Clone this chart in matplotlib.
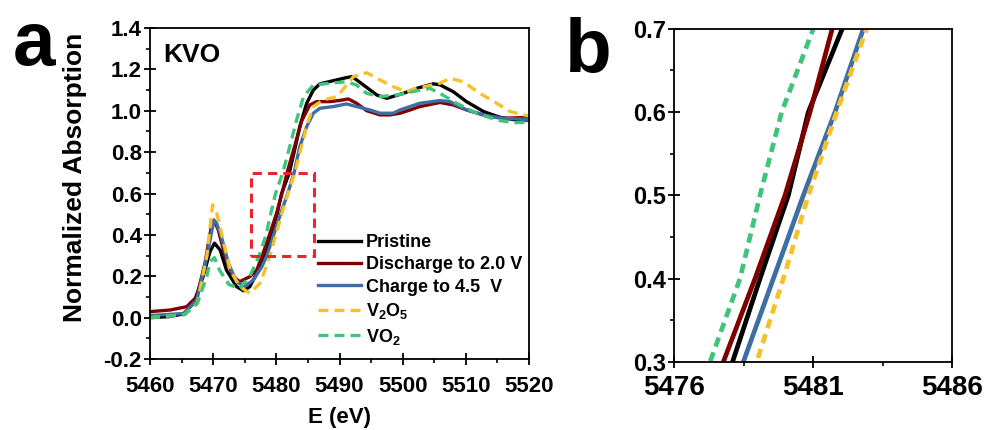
import matplotlib
matplotlib.use("Agg")
from matplotlib import pyplot as plt
from matplotlib.patches import Rectangle
from matplotlib.ticker import MultipleLocator, FixedLocator

plt.rcParams["font.family"] = ["Liberation Sans", "DejaVu Sans"]
plt.rcParams["font.weight"] = "bold"
plt.rcParams["axes.unicode_minus"] = False
plt.rcParams["mathtext.fontset"] = "custom"
plt.rcParams["mathtext.bf"] = "Liberation Sans:bold"
plt.rcParams["mathtext.default"] = "bf"

# ---- data (energy in eV, normalized absorption) ----
pristine_e = [5460, 5463, 5465.3, 5466.9, 5468.4, 5469.5, 5470.2, 5471.1, 5472.1, 5473.7,
              5474.8, 5475.8, 5477.0, 5478.1, 5479.09, 5480.11, 5480.83, 5482.05, 5482.95,
              5483.7, 5484.8, 5485.85, 5486.9, 5489.0, 5491.1, 5492.0, 5493.8, 5495.9,
              5497.5, 5500.1, 5502.2, 5504.85, 5505.9, 5508.0, 5510.1, 5512.8, 5515.4,
              5518.0, 5520]
pristine_a = [0.0, 0.005, 0.018, 0.07, 0.198, 0.32, 0.36, 0.327, 0.23, 0.15,
              0.13, 0.15, 0.22, 0.30, 0.40, 0.50, 0.60, 0.70, 0.818,
              0.923, 1.036, 1.10, 1.13, 1.145, 1.16, 1.165, 1.124, 1.076,
              1.06, 1.084, 1.108, 1.13, 1.125, 1.092, 1.044, 0.996, 0.968,
              0.955, 0.955]

discharge_e = [5460, 5463.2, 5465.8, 5467.4, 5468.7, 5469.8, 5470.1, 5470.8, 5471.9, 5473.2,
               5474.2, 5475.8, 5476.9, 5477.77, 5478.91, 5479.99, 5480.89, 5481.69, 5483.0,
               5484.0, 5485.3, 5486.4, 5488.5, 5490.1, 5491.4, 5492.7, 5494.3, 5496.4,
               5498.0, 5499.6, 5501.2, 5502.7, 5505.9, 5508.0, 5510.1, 5513.3, 5516.4, 5520]
discharge_a = [0.029, 0.037, 0.053, 0.101, 0.263, 0.456, 0.472, 0.424, 0.295, 0.198,
               0.174, 0.198, 0.23, 0.30, 0.40, 0.50, 0.60, 0.70, 0.84,
               0.95, 1.028, 1.044, 1.044, 1.05, 1.057, 1.036, 1.0, 0.98,
               0.98, 0.988, 1.004, 1.02, 1.04, 1.028, 1.004, 0.975, 0.964, 0.968]

charge_e = [5460, 5465.3, 5467.4, 5469.0, 5470.1, 5470.5, 5471.3, 5472.4, 5473.7, 5475.0,
            5476.35, 5477.7, 5478.49, 5479.57, 5480.65, 5481.79, 5482.81, 5483.7, 5484.8,
            5485.85, 5486.9, 5489.0, 5491.1, 5492.7, 5494.8, 5496.4, 5498.5, 5499.6,
            5502.7, 5505.9, 5507.5, 5510.1, 5512.8, 5515.4, 5520]
charge_a = [0.01, 0.02, 0.085, 0.295, 0.47, 0.46, 0.391, 0.263, 0.174, 0.15,
            0.182, 0.246, 0.30, 0.40, 0.50, 0.60, 0.70, 0.826, 0.923,
            0.988, 1.012, 1.02, 1.033, 1.02, 1.004, 0.988, 0.988, 1.004,
            1.036, 1.049, 1.044, 1.004, 0.98, 0.964, 0.958]

v2o5_e = [5460, 5465.5, 5467.5, 5469.0, 5469.9, 5470.6, 5471.3, 5472.7, 5474.2, 5475.8,
          5477.4, 5478.2, 5478.97, 5479.93, 5480.83, 5481.85, 5482.93, 5484.0, 5485.1,
          5485.85, 5487.4, 5489.6, 5490.9, 5492.2, 5494.3, 5496.4, 5498.5, 5500.6,
          5501.7, 5504.0, 5505.9, 5507.5, 5509.6, 5512.2, 5514.9, 5517.0, 5519.1, 5520]
v2o5_a = [0.0, 0.015, 0.07, 0.3, 0.545, 0.5, 0.41, 0.23, 0.15, 0.118,
          0.166, 0.23, 0.30, 0.40, 0.50, 0.60, 0.70, 0.83, 0.955,
          1.02, 1.052, 1.068, 1.116, 1.165, 1.184, 1.149, 1.116, 1.092,
          1.104, 1.12, 1.133, 1.157, 1.14, 1.084, 1.036, 0.996, 0.98, 0.975]

vo2_e = [5460, 5465.5, 5467.5, 5469.0, 5469.5, 5470.2, 5471.0, 5472.5, 5474.2, 5475.8,
         5477.29, 5478.37, 5479.09, 5479.87, 5481.01, 5482.4, 5483.2, 5484.3, 5485.85,
         5488.5, 5491.1, 5492.7, 5494.3, 5496.4, 5499.1, 5502.0, 5504.3, 5505.9,
         5508.55, 5511.7, 5514.9, 5517.5, 5520]
vo2_a = [0.0, 0.015, 0.07, 0.2, 0.27, 0.29, 0.23, 0.16, 0.14, 0.2,
         0.30, 0.40, 0.50, 0.60, 0.70, 0.859, 0.955, 1.068, 1.124,
         1.133, 1.14, 1.124, 1.084, 1.068, 1.076, 1.095, 1.108, 1.084,
         1.036, 0.988, 0.955, 0.942, 0.945]

series = [
    (pristine_e, pristine_a, "Pristine", "#000000", False),
    (discharge_e, discharge_a, "Discharge to 2.0 V", "#800000", False),
    (charge_e, charge_a, "Charge to 4.5  V", "#3d6fa6", False),
    (v2o5_e, v2o5_a, "V$_2$O$_5$", "#f7c12b", True),
    (vo2_e, vo2_a, "VO$_2$", "#3fc47a", True),
]

zoom_box = (5476, 5486, 0.3, 0.7)
b_xticks = [5476, 5481, 5486]

fig = plt.figure(figsize=(9.87, 4.30), dpi=100)
ax_a = fig.add_axes([0.152, 0.165, 0.384, 0.770])
ax_b = fig.add_axes([0.683, 0.158, 0.2815, 0.775])

for e, a, label, color, dashed in series:
    ax_a.plot(e, a, color=color, ls=(0, (3, 1.8)) if dashed else "-", lw=2.4, label=label)
    ax_b.plot(e, a, color=color, ls=(0, (2, 1.3)) if dashed else "-", lw=3.4)

# dashed box marking the zoomed region
x0, x1, y0, y1 = zoom_box
ax_a.add_patch(Rectangle((x0, y0), x1 - x0, y1 - y0, fill=False,
                         edgecolor="#e8262b", lw=2.2, ls=(0, (3, 2)), zorder=5))

ax_a.set_xlim(5460, 5520)
ax_a.set_ylim(-0.2, 1.4)
ax_a.xaxis.set_major_locator(MultipleLocator(10))
ax_a.xaxis.set_minor_locator(MultipleLocator(5))
ax_a.yaxis.set_major_locator(MultipleLocator(0.2))
ax_a.yaxis.set_minor_locator(MultipleLocator(0.1))
ax_a.yaxis.set_major_formatter(plt.FormatStrFormatter("%.1f"))
ax_a.set_xlabel("E (eV)", fontsize=16, fontweight="bold")
ax_a.set_ylabel("Normalized Absorption", fontsize=19, fontweight="bold")
ax_a.xaxis.set_label_coords(0.5, -0.145)
ax_a.yaxis.set_label_coords(-0.165, 0.55)
ax_a.text(0.034, 0.955, "KVO", transform=ax_a.transAxes, fontsize=19,
          fontweight="bold", va="top", ha="left")
ax_a.legend(loc="upper left", bbox_to_anchor=(0.443, 0.378), frameon=False,
            handlelength=2.4, handletextpad=0.25, labelspacing=0.3,
            borderpad=0, borderaxespad=0, prop={"weight": "bold", "size": 13})

ax_b.set_xlim(x0, x1)
ax_b.set_ylim(y0, y1)
ax_b.xaxis.set_major_locator(FixedLocator(b_xticks))
ax_b.xaxis.set_minor_locator(FixedLocator([5478.5, 5483.5]))
ax_b.yaxis.set_major_locator(MultipleLocator(0.1))
ax_b.yaxis.set_minor_locator(MultipleLocator(0.05))
ax_b.yaxis.set_major_formatter(plt.FormatStrFormatter("%.1f"))

for ax in (ax_a, ax_b):
    for sp in ax.spines.values():
        sp.set_linewidth(1.3)
    ax.tick_params(which="major", direction="inout", length=8, width=1.3,
                   labelsize=16)
    ax.tick_params(axis="y", which="major", pad=2)
    ax.tick_params(axis="x", which="major", pad=8)
    ax.tick_params(which="minor", direction="out", length=3, width=1.2)

ax_b.tick_params(axis="x", which="major", labelsize=20, pad=5)
ax_b.tick_params(axis="y", which="major", labelsize=17)

for ax in (ax_a, ax_b):
    for lbl in ax.get_xticklabels() + ax.get_yticklabels():
        lbl.set_fontweight("bold")

fig.text(0.013, 0.849, "a", fontsize=55, fontweight="bold", ha="left", va="baseline")
fig.text(0.572, 0.833, "b", fontsize=55, fontweight="bold", ha="left", va="baseline")

fig.savefig("out.png", dpi=100)
